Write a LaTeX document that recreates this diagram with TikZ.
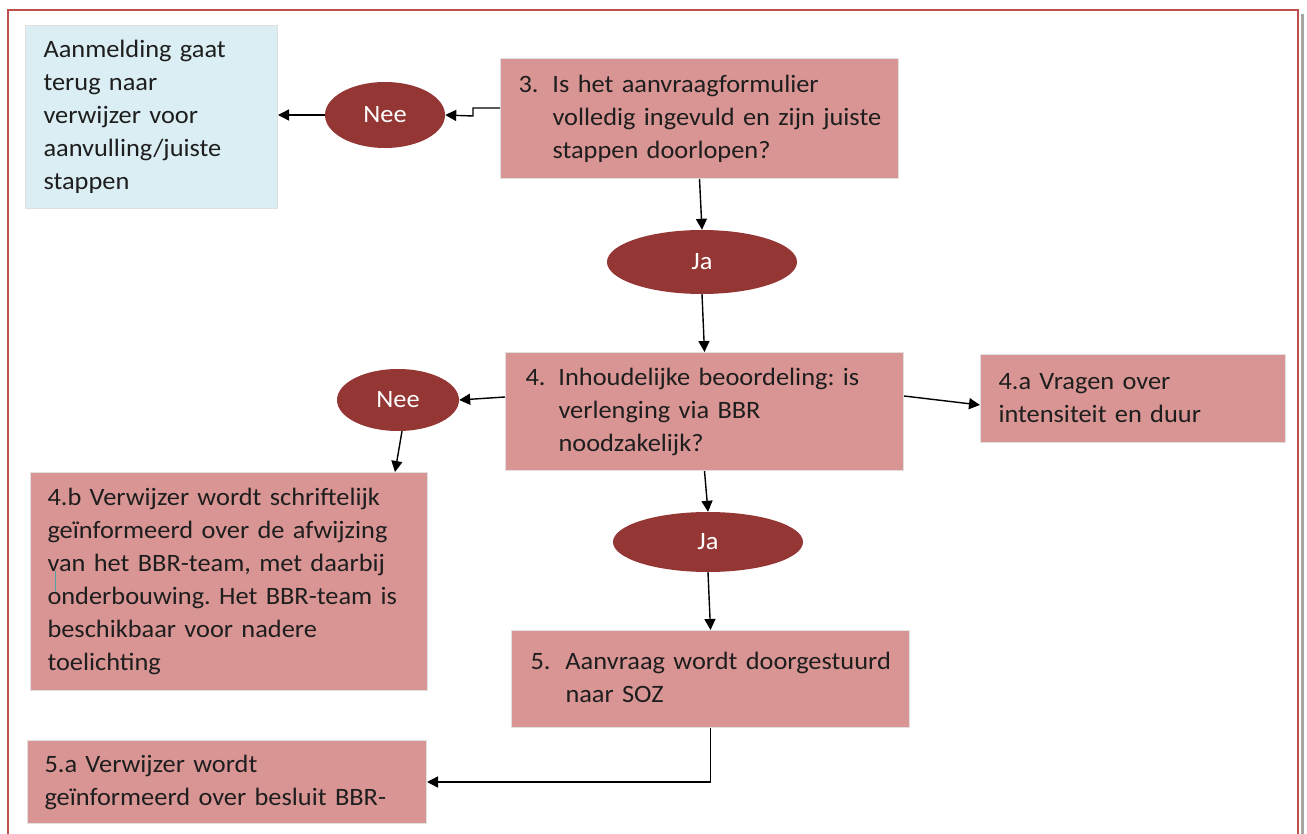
\documentclass[tikz,border=0pt]{standalone}
\usepackage{fontspec}
\setmainfont{Carlito}[FakeStretch=1.055,WordSpace=0.85]
\usetikzlibrary{shapes.geometric,arrows.meta}
\definecolor{boxred}{HTML}{D99594}
\definecolor{ovalred}{HTML}{943634}
\definecolor{lightblue}{HTML}{DAEEF3}
\definecolor{framered}{HTML}{C0504D}
\definecolor{txt}{HTML}{1E1E1E}
\frenchspacing
\begin{document}
\begin{tikzpicture}[x=1pt,y=-1pt,
  every node/.style={font=\fontsize{25}{33}\selectfont, text=txt},
  stepbox/.style={rectangle, draw=black!12, line width=1pt, fill=boxred, anchor=north west, inner ysep=0pt, align=left},
  infobox/.style={stepbox, fill=lightblue},
  oval/.style={ellipse, fill=ovalred, draw=none, text=white, inner sep=0pt},
  arr/.style={draw=black, line width=1.4pt, -{Triangle[length=11pt,width=11pt]}}]
\fill[white] (0,0) rectangle (1307,834);
\useasboundingbox (0,0) rectangle (1307,834);
% frame
\draw[black!35, line width=3pt] (1302,14) -- (1302,834);
\draw[framered, line width=1.6pt] (8,834) -- (8,10) -- (1298,10) -- (1298,834);
% boxes
\node[infobox, text width=216pt, inner xsep=18pt, minimum height=183pt] (blue) at (25,25)
  {Aanmelding gaat\\terug naar\\verwijzer voor\\aanvulling/juiste\\stappen};
\node[stepbox, text width=362pt, inner xsep=18pt, minimum height=120pt] (box3) at (500,58)
  {\begin{tabular}{@{}p{34pt}@{}l@{}}3.&Is het aanvraagformulier\\&volledig ingevuld en zijn juiste\\&stappen doorlopen?\end{tabular}};
\node[stepbox, text width=358pt, inner xsep=20pt, minimum height=118pt] (box4) at (505,352)
  {\begin{tabular}{@{}p{33pt}@{}l@{}}4.&Inhoudelijke beoordeling: is\\&verlenging via BBR\\&noodzakelijk?\end{tabular}};
\node[stepbox, text width=269pt, inner xsep=18pt, minimum height=88pt] (box4a) at (980,354)
  {4.a Vragen over\\intensiteit en duur};
\node[stepbox, text width=363pt, inner xsep=17pt, minimum height=218pt] (box4b) at (30,472)
  {4.b Verwijzer wordt schriftelijk\\geïnformeerd over de afwijzing\\van het BBR-team, met daarbij\\onderbouwing. Het BBR-team is\\beschikbaar voor nadere\\toelichting};
\node[stepbox, text width=360pt, inner xsep=19pt, minimum height=97pt] (box5) at (511,630)
  {\begin{tabular}{@{}p{35pt}@{}l@{}}5.&Aanvraag wordt doorgestuurd\\&naar SOZ\end{tabular}};
\node[stepbox, text width=365pt, inner xsep=17pt, minimum height=83pt] (box5a) at (27,740)
  {5.a Verwijzer wordt\\geïnformeerd over besluit BBR-};
% ovals
\node[oval, minimum width=120pt, minimum height=66pt] (nee1) at (385,115) {Nee};
\node[oval, minimum width=190pt, minimum height=64pt] (ja1) at (702,262) {Ja};
\node[oval, minimum width=122pt, minimum height=62pt] (nee2) at (398,400) {Nee};
\node[oval, minimum width=190pt, minimum height=60pt] (ja2) at (708,542) {Ja};
% cursor mark
\draw[teal!70, line width=1pt] (55,571) -- (55,592);
% connectors
\coordinate (b3out) at (box3.west |- 0,108);
\coordinate (b3step) at (473,116);
\draw[arr] (b3out) -| (b3step) -- (nee1.east);
\draw[arr] (nee1.west) -- (blue.east |- nee1.west);
\draw[arr] (box3.south) -- (ja1.north);
\draw[arr] (ja1.south) -- (box4.north);
\draw[arr] (box4.west |- 0,397) -- (nee2.east);
\coordinate (b4bin) at (395,472);
\draw[arr] ([xshift=4pt]nee2.south) -- (b4bin);
\draw[arr] (box4.east |- 0,396) -- (box4a.west |- 0,405);
\draw[arr] (box4.south) -- (ja2.north);
\draw[arr] (ja2.south) -- (box5.north);
\draw[arr] (box5.south) |- (box5a.east);
\end{tikzpicture}
\end{document}
